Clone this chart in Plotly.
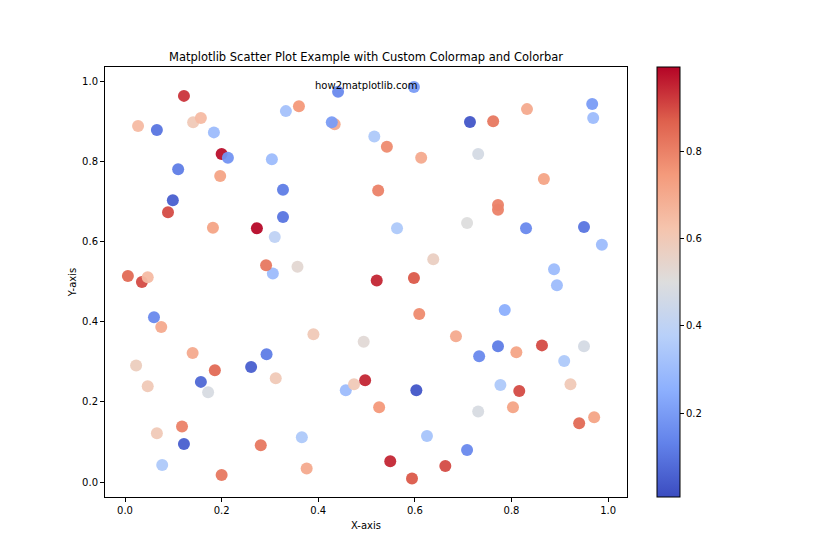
import plotly.graph_objects as go

x_vals = [0.122, 0.027, 0.066, 0.141, 0.157, 0.184, 0.200, 0.213, 0.304, 0.197,
          0.110, 0.099, 0.089, 0.182, 0.273, 0.310, 0.327, 0.327, 0.333, 0.360,
          0.441, 0.434, 0.428, 0.516, 0.542, 0.598, 0.613, 0.714, 0.762, 0.832,
          0.731, 0.867, 0.967, 0.969, 0.772, 0.772, 0.708, 0.830, 0.950, 0.987,
          0.888, 0.894, 0.786, 0.638, 0.598, 0.521, 0.563, 0.524, 0.357, 0.306,
          0.292, 0.006, 0.035, 0.047, 0.060, 0.075, 0.390, 0.494, 0.609, 0.685,
          0.733, 0.772, 0.810, 0.863, 0.950, 0.909, 0.140, 0.186, 0.157, 0.172,
          0.261, 0.293, 0.312, 0.023, 0.047, 0.066, 0.118, 0.122, 0.077, 0.200,
          0.281, 0.366, 0.376, 0.457, 0.474, 0.497, 0.526, 0.603, 0.625, 0.549,
          0.594, 0.663, 0.708, 0.731, 0.777, 0.816, 0.803, 0.922, 0.940, 0.971]
y_vals = [0.963, 0.888, 0.878, 0.897, 0.908, 0.872, 0.818, 0.809, 0.805, 0.763,
          0.780, 0.703, 0.673, 0.634, 0.633, 0.611, 0.661, 0.729, 0.925, 0.937,
          0.973, 0.892, 0.897, 0.862, 0.836, 0.985, 0.809, 0.898, 0.900, 0.930,
          0.818, 0.756, 0.943, 0.908, 0.691, 0.679, 0.646, 0.633, 0.636, 0.592,
          0.531, 0.491, 0.429, 0.556, 0.509, 0.503, 0.633, 0.727, 0.537, 0.520,
          0.541, 0.514, 0.499, 0.511, 0.411, 0.387, 0.369, 0.350, 0.419, 0.364,
          0.314, 0.339, 0.324, 0.341, 0.339, 0.302, 0.322, 0.279, 0.250, 0.224,
          0.287, 0.319, 0.259, 0.291, 0.239, 0.122, 0.139, 0.095, 0.043, 0.018,
          0.092, 0.112, 0.034, 0.229, 0.244, 0.254, 0.187, 0.229, 0.115, 0.052,
          0.009, 0.040, 0.080, 0.176, 0.242, 0.227, 0.187, 0.244, 0.147, 0.162]
c_vals = [0.93, 0.65, 0.10, 0.60, 0.65, 0.30, 0.98, 0.18, 0.30, 0.72,
          0.12, 0.05, 0.90, 0.72, 0.99, 0.40, 0.10, 0.12, 0.32, 0.75,
          0.15, 0.70, 0.20, 0.35, 0.78, 0.20, 0.70, 0.03, 0.82, 0.70,
          0.47, 0.72, 0.20, 0.30, 0.80, 0.80, 0.50, 0.15, 0.10, 0.30,
          0.30, 0.30, 0.25, 0.57, 0.88, 0.95, 0.35, 0.80, 0.53, 0.30,
          0.82, 0.85, 0.90, 0.65, 0.15, 0.70, 0.60, 0.52, 0.78, 0.70,
          0.15, 0.12, 0.72, 0.90, 0.47, 0.35, 0.70, 0.85, 0.07, 0.48,
          0.05, 0.12, 0.60, 0.58, 0.60, 0.60, 0.80, 0.05, 0.35, 0.82,
          0.82, 0.35, 0.70, 0.30, 0.60, 0.95, 0.75, 0.03, 0.33, 0.95,
          0.88, 0.90, 0.15, 0.48, 0.35, 0.90, 0.72, 0.60, 0.85, 0.72]

cbar_ticks = [0.2, 0.4, 0.6, 0.8]
x_ticks = [0.0, 0.2, 0.4, 0.6, 0.8, 1.0]
y_ticks = [0.0, 0.2, 0.4, 0.6, 0.8, 1.0]

coolwarm = [
    [0.0, "rgb(59,76,192)"],
    [0.125, "rgb(98,130,234)"],
    [0.25, "rgb(141,176,254)"],
    [0.375, "rgb(184,208,249)"],
    [0.5, "rgb(221,221,221)"],
    [0.625, "rgb(245,196,173)"],
    [0.75, "rgb(244,154,123)"],
    [0.875, "rgb(222,96,77)"],
    [1.0, "rgb(180,4,38)"],
]

FONT = "DejaVu Sans"
# page body has an 8px margin; figure is sized/placed to compensate
OFF = 8
W, H = 840 - 2 * OFF, 560 - 2 * OFF
L, R, T, B = 105 - OFF, W - (627 - OFF), 67 - OFF, H - (497 - OFF)

fig = go.Figure()
fig.add_trace(go.Scatter(
    x=x_vals, y=y_vals, mode="markers",
    marker=dict(
        size=12, color=c_vals, colorscale=coolwarm, cmin=0.007, cmax=0.995,
        opacity=0.95, line=dict(width=0),
        colorbar=dict(
            x=(657 - 105) / 522, xanchor="left", xpad=0, ypad=0,
            y=0.5, yanchor="middle", len=1.0, lenmode="fraction",
            thickness=23, outlinewidth=1, outlinecolor="black",
            tickvals=cbar_ticks, ticktext=[f"{t:.1f}" for t in cbar_ticks],
            ticks="outside", ticklen=4, tickcolor="black",
            tickfont=dict(family=FONT, size=10, color="black"),
        ),
    ),
    showlegend=False,
))

fig.add_annotation(
    text="how2matplotlib.com", xref="paper", yref="paper", x=0.5, y=0.95,
    xanchor="center", yanchor="bottom", showarrow=False,
    font=dict(family=FONT, size=10, color="black"), yshift=-4,
)

axis_common = dict(
    showgrid=False, zeroline=False, showline=True, mirror=True,
    linecolor="black", linewidth=1, ticks="outside", ticklen=4,
    tickcolor="black", tickfont=dict(family=FONT, size=10, color="black"),
)

fig.update_layout(
    width=W, height=H,
    margin=dict(l=L, r=R, t=T, b=B),
    paper_bgcolor="white", plot_bgcolor="white",
    title=dict(text="Matplotlib Scatter Plot Example with Custom Colormap and Colorbar",
               x=(366 - OFF) / W, xanchor="center", y=1 - (57 - OFF) / H, yanchor="middle",
               font=dict(family=FONT, size=11.5, color="black")),
    xaxis=dict(range=[-0.0414, 1.039], tickvals=x_ticks,
               ticktext=[f"{t:.1f}" for t in x_ticks],
               title=dict(text="X-axis", font=dict(family=FONT, size=10, color="black"), standoff=6),
               **axis_common),
    yaxis=dict(range=[-0.037, 1.035], tickvals=y_ticks,
               ticktext=[f"{t:.1f}" for t in y_ticks],
               title=dict(text="Y-axis", font=dict(family=FONT, size=10, color="black"), standoff=3),
               **axis_common),
)

fig.write_html("out.html")
